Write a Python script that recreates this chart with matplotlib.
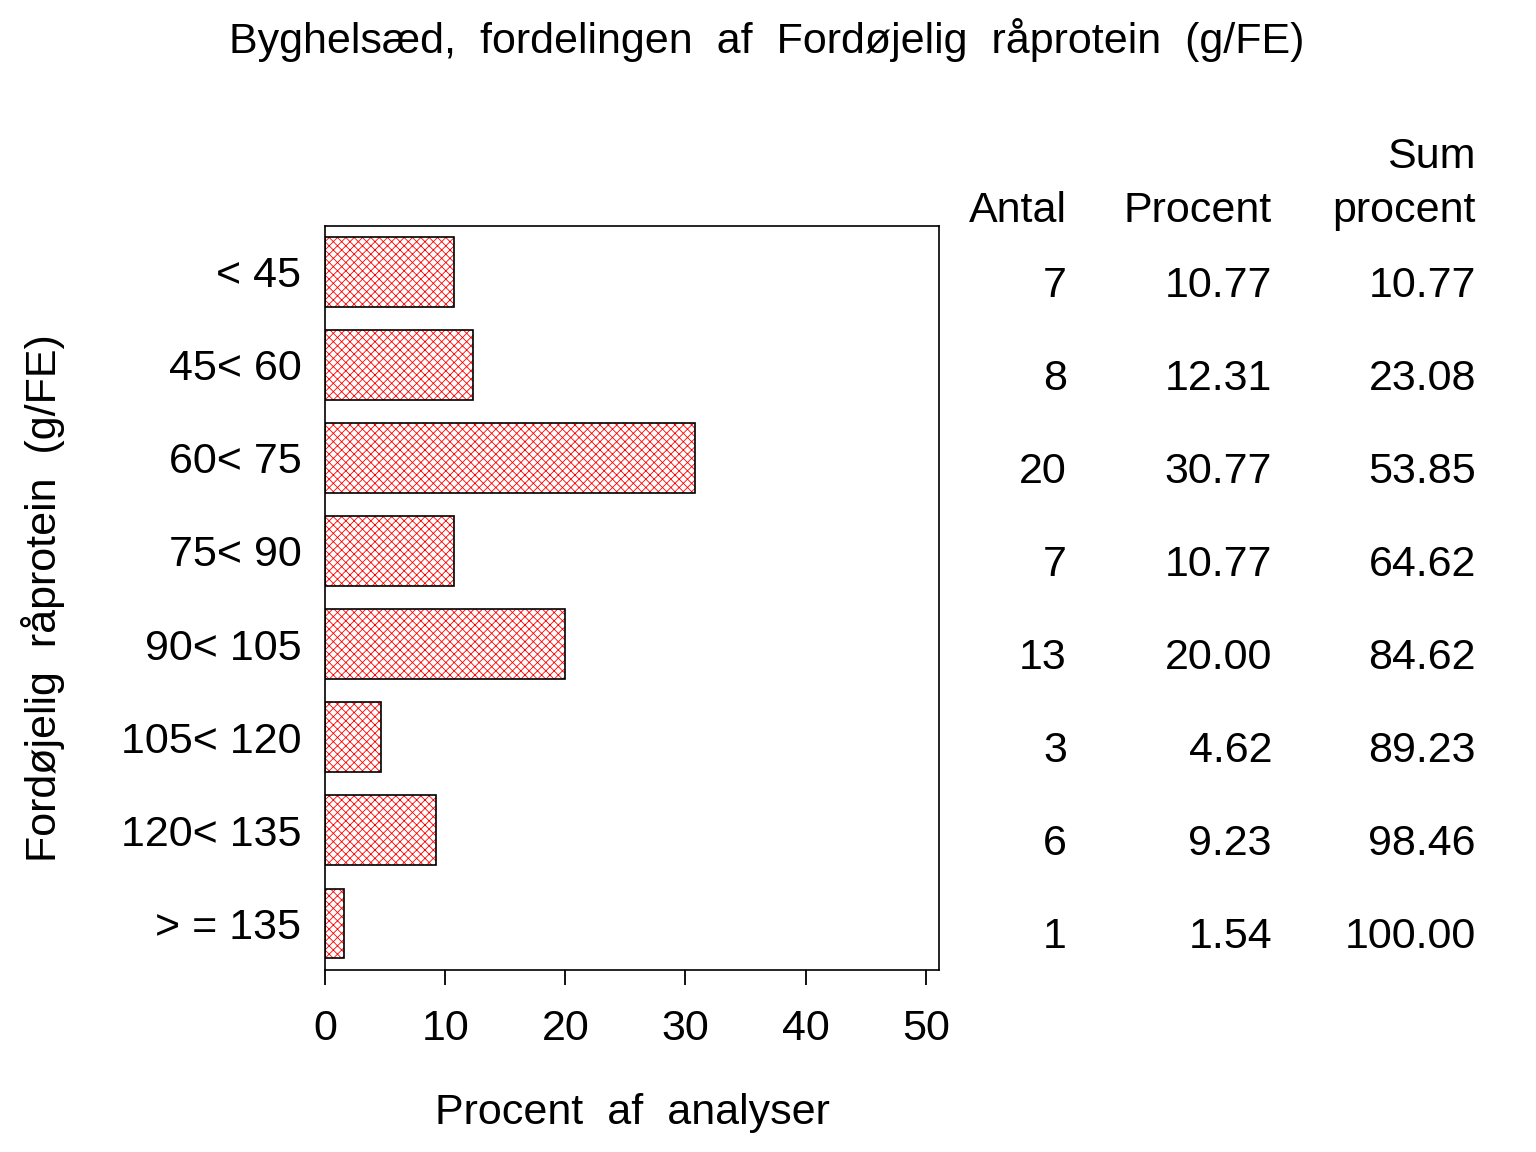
import matplotlib
matplotlib.use("Agg")
import matplotlib.pyplot as plt
import matplotlib.transforms as mtransforms

plt.rcParams['font.family'] = ['Liberation Sans', 'DejaVu Sans']
plt.rcParams['hatch.linewidth'] = 0.6

categories = ["< 45", "45< 60", "60< 75", "75< 90", "90< 105", "105< 120", "120< 135", "> = 135"]
antal = [7, 8, 20, 7, 13, 3, 6, 1]
procent = [10.77, 12.31, 30.77, 10.77, 20.00, 4.62, 9.23, 1.54]
sum_procent = [10.77, 23.08, 53.85, 64.62, 84.62, 89.23, 98.46, 100.00]
xticks = [0, 10, 20, 30, 40, 50]

FS = 31

fig = plt.figure(figsize=(15.36, 11.52), dpi=100)
ax = fig.add_axes([325/1536, 1-970/1152, (939-325)/1536, (970-226)/1152])

ypos = list(range(len(categories)))
ax.barh(ypos, procent, height=0.75, color='white', edgecolor='red', hatch='xxxx', linewidth=0)
ax.barh(ypos, procent, height=0.75, fill=False, edgecolor='black', linewidth=1.2)

ax.set_ylim(len(categories)-0.5, -0.49)
ax.set_xlim(0, 51.1)
ax.set_xticks(xticks)
ax.set_xticklabels([str(t) for t in xticks])
ax.set_yticks(ypos)
ax.set_yticklabels(categories)
ax.tick_params(axis='y', length=0, pad=17, labelsize=FS)
ax.tick_params(axis='x', length=11, width=1.3, pad=17, labelsize=FS, direction='out')
for s in ax.spines.values():
    s.set_linewidth(1.2)

ax.set_xlabel("Procent  af  analyser", fontsize=FS, labelpad=32)
ax.set_ylabel("Fordøjelig  råprotein  (g/FE)", fontsize=FS, labelpad=40)

fig.text(767/1536, 1-40/1152, "Byghelsæd,  fordelingen  af  Fordøjelig  råprotein  (g/FE)",
         ha='center', va='center', fontsize=FS)

trans = mtransforms.blended_transform_factory(fig.transFigure, ax.transData)
cols = [1067/1536, 1272/1536, 1476/1536]
for i in ypos:
    ax.text(cols[0], i + 0.15, f"{antal[i]}", transform=trans, ha='right', va='center', fontsize=FS, clip_on=False)
    ax.text(cols[1], i + 0.15, f"{procent[i]:.2f}", transform=trans, ha='right', va='center', fontsize=FS, clip_on=False)
    ax.text(cols[2], i + 0.15, f"{sum_procent[i]:.2f}", transform=trans, ha='right', va='center', fontsize=FS, clip_on=False)

fig.text(cols[0], 1-211/1152, "Antal", ha='right', va='center', fontsize=FS)
fig.text(cols[1], 1-211/1152, "Procent", ha='right', va='center', fontsize=FS)
fig.text(cols[2], 1-157/1152, "Sum", ha='right', va='center', fontsize=FS)
fig.text(cols[2], 1-211/1152, "procent", ha='right', va='center', fontsize=FS)

fig.savefig("out.png", dpi=100)
